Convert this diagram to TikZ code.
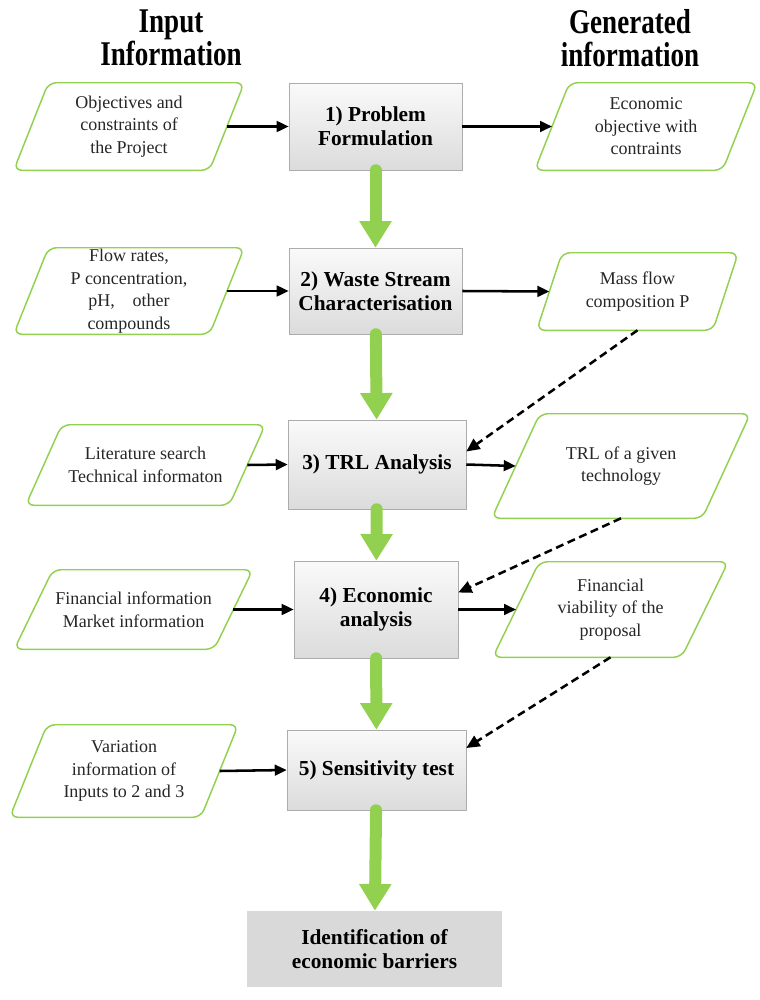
\documentclass[tikz,border=0pt]{standalone}
\usepackage{fontspec}
\setmainfont{Liberation Serif}
\usetikzlibrary{arrows.meta,calc}
\definecolor{flowgreen}{RGB}{146,208,80}

\begin{document}
\begin{tikzpicture}[
  x=0.75pt, y=-0.75pt,
  data/.style={rectangle, inner sep=0pt, align=center, text=black!85, font=\fontsize{13.5}{16.9}\selectfont},
  paraline/.style={draw=flowgreen, line width=1.1pt, rounded corners=6pt},
  boxtext/.style={rectangle, align=center, font=\fontsize{16}{18}\selectfont\bfseries},
  stage/.style={boxtext, draw=gray!65, top color=gray!4, bottom color=gray!28},
  head/.style={align=center, font=\fontsize{26}{24.75}\selectfont\bfseries, xscale=0.78, transform shape},
  flow/.style={line width=9pt, color=flowgreen, line cap=round, -{Triangle[width=23pt,length=20pt]}},
  feed/.style={line width=1.9pt, -{Triangle[width=8pt,length=9pt]}},
  back/.style={line width=1.9pt, dash pattern=on 6pt off 3.5pt, -{Triangle[width=9pt,length=10pt]}},
]
  \useasboundingbox (0,0) rectangle (760,1000);

  \node[head] (hin) at (171, 38) {Input\\Information};
  \node[head] (hout) at (630, 38) {Generated\\information};

  \node[data, minimum width=172.5pt, minimum height=65.25pt] (in1) at (129, 126.5) {Objectives and\\constraints of\\the Project};
  \node[data, minimum width=172.5pt, minimum height=64.5pt] (in2) at (129, 291) {Flow rates,\\P concentration,\\pH,\quad other\\compounds};
  \node[data, minimum width=179.25pt, minimum height=60pt] (in3) at (145.5, 465) {Literature search\\Technical informaton};
  \node[data, minimum width=178.5pt, minimum height=59.25pt] (in4) at (133.5, 609.5) {Financial information\\Market information};
  \node[data, minimum width=171pt, minimum height=69pt] (in5) at (124, 771) {Variation\\information of\\Inputs to 2 and 3};

  \node[stage, minimum width=129.75pt, minimum height=65.25pt] (st1) at (375.5, 126.5) {1) Problem\\Formulation};
  \node[stage, minimum width=129.75pt, minimum height=64.5pt] (st2) at (375.5, 291) {2) Waste Stream\\Characterisation};
  \node[stage, minimum width=133.5pt, minimum height=66.75pt] (st3) at (377, 464.5) {3) TRL Analysis};
  \node[stage, minimum width=123pt, minimum height=72.75pt] (st4) at (376, 609.5) {4) Economic\\analysis};
  \node[stage, minimum width=134.25pt, minimum height=60pt] (st5) at (376.5, 770) {5) Sensitivity test};
  \node[boxtext, fill=gray!30, minimum width=191.25pt, minimum height=57pt] (bar) at (374.5, 949) {Identification of\\economic barriers};

  \node[data, minimum width=166.5pt, minimum height=65.25pt] (out1) at (646, 126.5) {Economic\\objective with\\contraints};
  \node[data, minimum width=150.75pt, minimum height=57.75pt] (out2) at (637.5, 291.5) {Mass flow\\composition P};
  \node[data, minimum width=193.5pt, minimum height=78pt] (out3) at (621, 466) {TRL of a given\\technology};
  \node[data, minimum width=176.25pt, minimum height=71.25pt] (out4) at (610.5, 609.5) {Financial\\viability of the\\proposal};

  % slanted outlines of the data boxes
  \foreach \n/\s in {in1/26, in2/26, in3/27, in4/29, in5/28, out1/26, out2/19, out3/36, out4/35}
    \draw[paraline] ([xshift=\s pt]\n.north west) -- (\n.north east)
      -- ([xshift=-\s pt]\n.south east) -- (\n.south west) -- cycle;

  \draw[flow] (st1) -- (st2);
  \draw[flow] (st2) -- (st3);
  \draw[flow] (st3) -- (st4);
  \draw[flow] (st4) -- (st5);
  \draw[flow] (st5) -- (bar);

  \foreach \i/\s in {1/26, 2/26, 3/27, 4/29, 5/28}
    \draw[feed] ([xshift=-0.5*\s pt]in\i.east) -- (st\i.west);
  \foreach \i/\s in {1/26, 2/19, 3/36, 4/35}
    \draw[feed] (st\i.east) -- ([xshift=0.5*\s pt]out\i.west);

  \draw[back] (out2.south) -- ($(st3.east)+(0,-13)$);
  \draw[back] (out3.south) -- ($(st4.east)+(0,-17)$);
  \draw[back] (out4.south) -- ($(st5.east)+(0,-22)$);
\end{tikzpicture}
\end{document}
